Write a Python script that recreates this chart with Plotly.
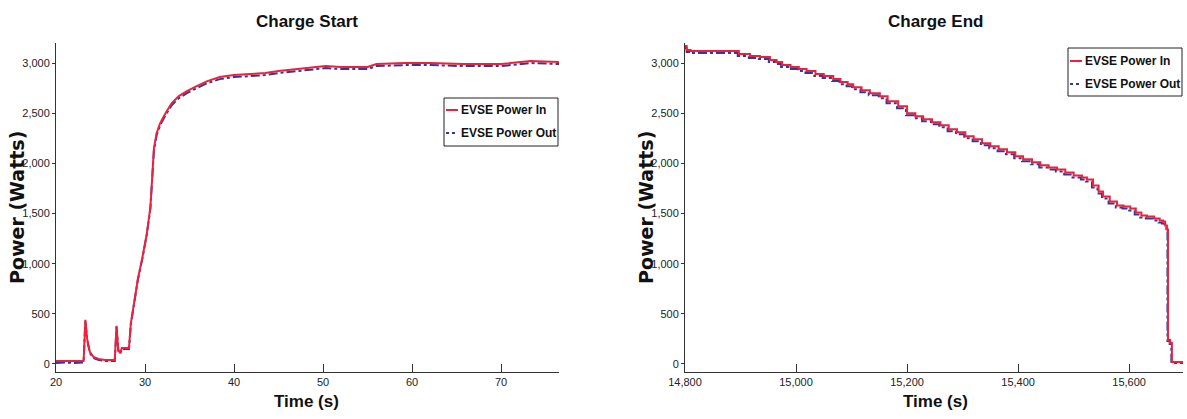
import plotly.graph_objects as go

# ---------------- Charge Start data ----------------
start_t_in = [20, 21, 22, 23.1, 23.3, 23.5, 23.8, 24.2, 24.8, 25.5, 26.6, 26.8, 27.0, 27.2, 27.4,
              28.2, 28.4, 28.7, 29.2, 29.7, 30.2, 30.6, 30.85, 31.0, 31.3, 31.7, 32.3, 33.0,
              33.8, 34.7, 35.8, 37.0, 38.4, 40.0, 41.8, 43.5, 45.0, 47.4, 48.5, 50.3, 52.0,
              55.0, 56.0, 59.2, 62.0, 65.7, 70.0, 73.3, 76.5]
start_p_in = [30, 30, 25, 30, 440, 250, 120, 70, 50, 40, 40, 380, 140, 110, 160,
              160, 400, 580, 850, 1060, 1300, 1560, 1900, 2150, 2300, 2400, 2500, 2600,
              2670, 2720, 2770, 2820, 2860, 2880, 2890, 2900, 2920, 2940, 2950, 2970, 2960,
              2960, 2990, 3000, 3000, 2990, 2990, 3020, 3010]

start_t_out = [20, 21, 22, 23.1, 23.3, 23.5, 23.8, 24.2, 24.8, 25.5, 26.6, 26.8, 27.0, 27.2, 27.4,
               28.2, 28.4, 28.7, 29.2, 29.7, 30.2, 30.6, 30.85, 31.0, 31.3, 31.7, 32.3, 33.0,
               33.8, 34.7, 35.8, 37.0, 38.4, 40.0, 41.8, 43.5, 45.0, 47.4, 48.5, 50.3, 52.0,
               55.0, 56.0, 59.2, 62.0, 65.7, 70.0, 73.3, 76.5]
start_p_out = [10, 15, 10, 15, 430, 240, 110, 60, 40, 30, 30, 370, 130, 100, 150,
               150, 390, 570, 840, 1050, 1290, 1550, 1880, 2130, 2280, 2380, 2480, 2580,
               2650, 2700, 2750, 2800, 2840, 2860, 2870, 2880, 2900, 2920, 2930, 2950, 2940,
               2940, 2970, 2980, 2980, 2970, 2970, 3000, 2990]

# ---------------- Charge End data ----------------
end_t_in = [14800, 14803, 14810, 14895, 14897, 14917, 14935, 14953, 14965, 14975, 14990, 15005,
            15019, 15035, 15050, 15067, 15080, 15093, 15103, 15118, 15133, 15151, 15165, 15184,
            15200, 15215, 15229, 15245, 15260, 15275, 15290, 15305, 15320, 15335, 15350, 15365,
            15380, 15395, 15409, 15425, 15440, 15455, 15470, 15485, 15500, 15515, 15524, 15535,
            15545, 15553, 15565, 15578, 15590, 15602, 15612, 15622, 15632, 15645, 15655, 15661,
            15665, 15668, 15670, 15674, 15677, 15697]
end_p_in = [3170, 3130, 3120, 3120, 3090, 3070, 3060, 3030, 3010, 2980, 2960, 2940,
            2920, 2890, 2870, 2840, 2810, 2790, 2760, 2730, 2700, 2670, 2620, 2570,
            2500, 2470, 2440, 2410, 2380, 2340, 2310, 2270, 2240, 2200, 2170, 2140,
            2110, 2070, 2040, 2010, 1980, 1960, 1940, 1910, 1880, 1860, 1840, 1780,
            1720, 1670, 1620, 1580, 1570, 1550, 1510, 1480, 1470, 1450, 1430, 1420,
            1380, 1340, 240, 210, 20, 20]

end_t_out = [14800, 14803, 14810, 14893, 14895, 14915, 14933, 14951, 14963, 14973, 14988, 15003,
             15017, 15033, 15048, 15065, 15078, 15091, 15101, 15116, 15131, 15149, 15163, 15182,
             15198, 15213, 15227, 15243, 15258, 15273, 15288, 15303, 15318, 15333, 15348, 15363,
             15378, 15393, 15407, 15423, 15438, 15453, 15468, 15483, 15498, 15513, 15522, 15533,
             15543, 15551, 15563, 15576, 15588, 15600, 15610, 15620, 15630, 15643, 15653, 15659,
             15664, 15667, 15669, 15673, 15676, 15697]
end_p_out = [3150, 3110, 3100, 3100, 3070, 3050, 3040, 3010, 2990, 2960, 2940, 2920,
             2900, 2870, 2850, 2820, 2790, 2770, 2740, 2710, 2680, 2650, 2600, 2550,
             2480, 2450, 2420, 2390, 2360, 2320, 2290, 2250, 2220, 2180, 2150, 2120,
             2090, 2050, 2020, 1990, 1960, 1940, 1920, 1890, 1860, 1840, 1820, 1760,
             1700, 1650, 1600, 1560, 1550, 1530, 1490, 1460, 1450, 1430, 1410, 1400,
             1360, 1320, 230, 200, 10, 10]

series_names = ["EVSE Power In", "EVSE Power Out"]
y_ticks = [0, 500, 1000, 1500, 2000, 2500, 3000]

RED = "#F0203C"
BLUE = "#2B3C9B"
FONT = "Liberation Sans, Arial, sans-serif"
AXC = "#333333"

W, H = 1187, 419
def px(x):
    return x / W
def py(y):
    return 1 - y / H

fig = go.Figure()
fig.add_trace(go.Scatter(x=start_t_out, y=start_p_out, name=series_names[1], mode="lines",
                         line=dict(color=BLUE, width=2, dash="dashdot"),
                         xaxis="x", yaxis="y"))
fig.add_trace(go.Scatter(x=start_t_in, y=start_p_in, name=series_names[0], mode="lines",
                         line=dict(color=RED, width=2),
                         xaxis="x", yaxis="y"))
fig.add_trace(go.Scatter(x=end_t_out, y=end_p_out, name=series_names[1], mode="lines",
                         line=dict(color=BLUE, width=2, dash="dashdot", shape="hv"),
                         xaxis="x2", yaxis="y2"))
fig.add_trace(go.Scatter(x=end_t_in, y=end_p_in, name=series_names[0], mode="lines",
                         line=dict(color=RED, width=2, shape="hv"),
                         xaxis="x2", yaxis="y2"))

tick_font = dict(family=FONT, size=11, color="#222")
common_x = dict(showline=True, linecolor=AXC, linewidth=1, ticks="inside", ticklen=8,
                tickcolor=AXC, showgrid=False, zeroline=False, automargin=False,
                tickfont=tick_font)
common_y = dict(showline=True, linecolor=AXC, linewidth=1, ticks="outside", ticklen=3,
                tickcolor=AXC, showgrid=False, zeroline=False, automargin=False,
                range=[-80, 3200], tickvals=y_ticks, tickformat=",d",
                tickfont=tick_font)

fig.update_layout(
    width=W, height=H,
    margin=dict(l=0, r=0, t=0, b=0),
    paper_bgcolor="white", plot_bgcolor="white",
    showlegend=False,
    xaxis=dict(common_x, domain=[px(56), px(559)], range=[20, 76.5], tick0=20, dtick=10,
               anchor="y"),
    yaxis=dict(common_y, domain=[py(372), py(43)], anchor="x"),
    xaxis2=dict(common_x, domain=[px(685), px(1183)], range=[14800, 15697], tick0=14800,
                dtick=200, tickformat=",d", anchor="y2"),
    yaxis2=dict(common_y, domain=[py(372), py(43)], anchor="x2"),
)

title_font = dict(family=FONT, size=17, color="#111", weight="bold")
xtitle_font = dict(family=FONT, size=17, color="#111", weight="bold")
ytitle_font = dict(family="DejaVu Sans, Verdana, sans-serif", size=19, color="#111", weight="bold")
annots = [
    dict(text="Charge Start", x=px(307), y=py(22), font=title_font),
    dict(text="Charge End", x=px(935), y=py(22), font=title_font),
    dict(text="Time (s)", x=px(307), y=py(401), font=xtitle_font),
    dict(text="Time (s)", x=px(935), y=py(401), font=xtitle_font),
    dict(text="Power (Watts)", x=px(17), y=py(208), textangle=-90, font=ytitle_font),
    dict(text="Power (Watts)", x=px(646), y=py(208), textangle=-90, font=ytitle_font),
]
for a in annots:
    fig.add_annotation(xref="paper", yref="paper", xanchor="center", yanchor="middle",
                       showarrow=False, **a)

# Legends (one box per panel): frame, sample lines and labels
legend_font = dict(family=FONT, size=12, color="#111", weight="bold")
legend_boxes = [
    dict(x0=444, x1=558, y0=98, y1=146, rows=[110, 133]),
    dict(x0=1068, x1=1182, y0=48, y1=96, rows=[61, 84]),
]
styles = [dict(color=RED, width=2), dict(color=BLUE, width=2, dash="dot")]
for b in legend_boxes:
    fig.add_shape(type="rect", xref="paper", yref="paper",
                  x0=px(b["x0"]), x1=px(b["x1"]), y0=py(b["y1"]), y1=py(b["y0"]),
                  line=dict(color="#222", width=1), fillcolor="white", layer="above")
    for name, row, st in zip(series_names, b["rows"], styles):
        fig.add_shape(type="line", xref="paper", yref="paper",
                      x0=px(b["x0"] + 2), x1=px(b["x0"] + 14), y0=py(row), y1=py(row),
                      line=st, layer="above")
        fig.add_annotation(xref="paper", yref="paper", x=px(b["x0"] + 15), y=py(row),
                           xanchor="left", yanchor="middle", showarrow=False,
                           text=name, font=legend_font)

fig.write_html("out.html", config={"displayModeBar": False},
               post_script="document.body.style.margin='0';")
